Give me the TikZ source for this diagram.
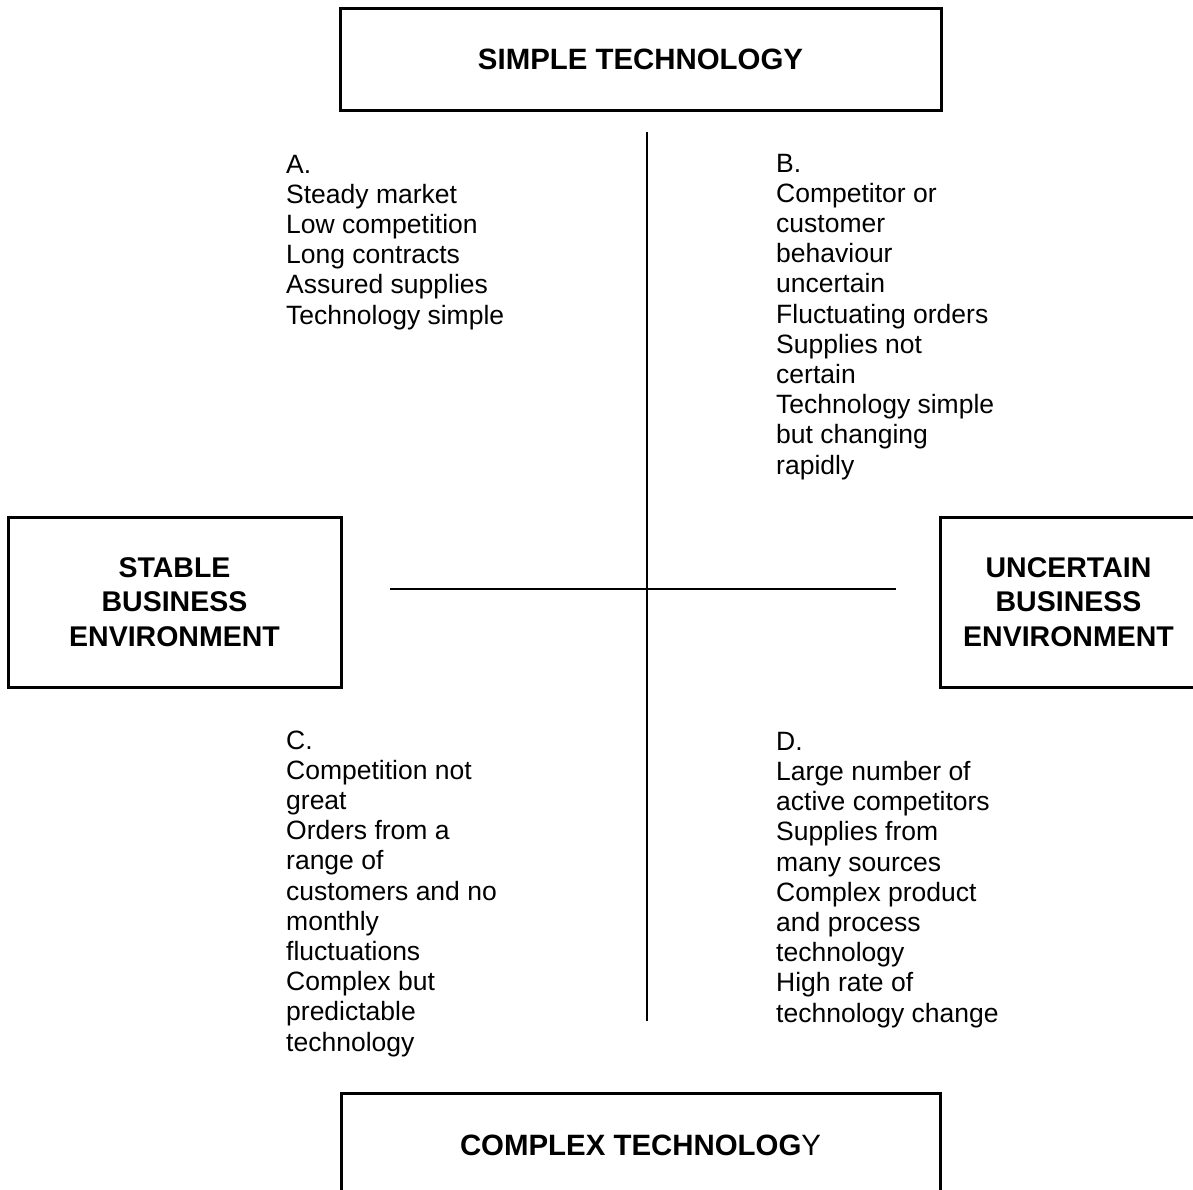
\documentclass[tikz,border=0pt]{standalone}
\usepackage{fontspec}
\setmainfont{Liberation Sans}
\begin{document}
\begin{tikzpicture}[x=1pt,y=-1pt,
  hbox/.style={draw, line width=3pt, inner sep=0pt, align=center,
    font=\fontsize{28.5}{34.5}\selectfont\bfseries},
  tbox/.style={hbox, font=\fontsize{29.4}{34.5}\selectfont\bfseries},
  qtext/.style={anchor=base west, inner sep=0pt, align=left,
    font=\fontsize{26.5}{30.2}\selectfont},
  axisline/.style={line width=2pt}]
\useasboundingbox (0,0) rectangle (1193,1189);
\fill[white] (0,0) rectangle (1193,1189);
% header boxes
\node[tbox, minimum width=601pt, minimum height=102pt] (simple) at (640.5,59) {SIMPLE TECHNOLOGY};
\node[hbox, minimum width=333pt, minimum height=170pt] (stable) at (174.5,602) {STABLE\\BUSINESS\\ENVIRONMENT};
\node[hbox, minimum width=257pt, minimum height=170pt] (uncertain) at (1068.5,602) {UNCERTAIN\\BUSINESS\\ENVIRONMENT};
\node[tbox, minimum width=599pt, minimum height=104pt] (complex) at (640.5,1145) {COMPLEX TECHNOLOG{\mdseries Y}};
% axes
\coordinate (vt) at (647,132);
\coordinate (vb) at (647,1021);
\coordinate (hl) at (390,588.5);
\coordinate (hr) at (896,588.5);
\draw[axisline] (vt) -- (vb);
\draw[axisline] (hl) -- (hr);
% quadrant texts (anchored at the baseline of their last line)
\node[qtext] (qa) at (286,324) {A.\\Steady market\\Low competition\\Long contracts\\Assured supplies\\Technology simple};
\node[qtext] (qb) at (776,474) {B.\\Competitor or\\customer\\behaviour\\uncertain\\Fluctuating orders\\Supplies not\\certain\\Technology simple\\but changing\\rapidly};
\node[qtext] (qc) at (286,1051) {C.\\Competition not\\great\\Orders from a\\range of\\customers and no\\monthly\\fluctuations\\Complex but\\predictable\\technology};
\node[qtext] (qd) at (776,1022) {D.\\Large number of\\active competitors\\Supplies from\\many sources\\Complex product\\and process\\technology\\High rate of\\technology change};
\end{tikzpicture}
\end{document}
